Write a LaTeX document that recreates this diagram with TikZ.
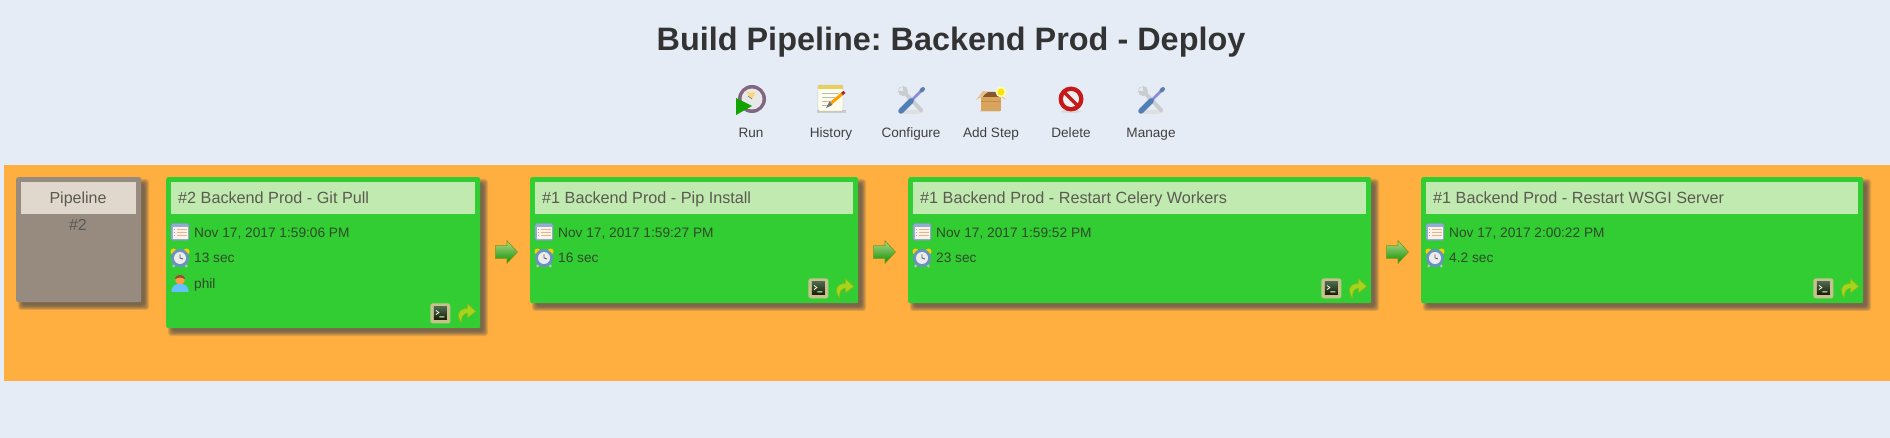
\documentclass[tikz,border=0pt]{standalone}
\usepackage{fontspec}
\setmainfont{Liberation Sans}
\usetikzlibrary{
    positioning,      % Relative positioning
    shapes.arrows,    % Arrows between the steps
    calc              % Coordinate calculations
}

\definecolor{pagebg}{HTML}{E6ECF5}
\definecolor{runbg}{HTML}{FFAE40}
\definecolor{okgreen}{HTML}{32CD32}
\definecolor{okhead}{HTML}{C1EAB1}
\definecolor{pipegrey}{HTML}{968B7E}
\definecolor{pipehead}{HTML}{E0D8CD}
\definecolor{shadetone}{HTML}{4E4E50}
\definecolor{bodytext}{HTML}{2F4A2A}
\definecolor{headtext}{HTML}{5A5A50}
\definecolor{toolblue}{HTML}{4F7FB5}
\definecolor{toolsteel}{HTML}{C9CDD2}
\definecolor{nextlime}{HTML}{A4D41C}
\definecolor{boxtan}{HTML}{D9A45C}
\definecolor{boxflap}{HTML}{E8BE82}
\definecolor{calblue}{HTML}{8FADD6}

\tikzset{
    stepcard/.style={fill=okgreen, rounded corners=2pt, anchor=north west, inner sep=0pt},
    stephead/.style={fill=okhead, anchor=north west, inner sep=0pt, minimum height=32pt},
    pipecard/.style={fill=pipegrey, rounded corners=2pt, anchor=north west, inner sep=0pt},
    pipehd/.style={fill=pipehead, anchor=north west, inner sep=0pt, minimum height=32pt},
    headlabel/.style={text=headtext, anchor=base west, inner sep=0pt, font=\fontsize{16.2}{18}\selectfont},
    rowlabel/.style={text=bodytext, anchor=base west, inner sep=0pt, font=\fontsize{13.7}{16}\selectfont},
    toollabel/.style={text=black!75, anchor=base, inner sep=0pt, font=\fontsize{13.6}{16}\selectfont},
    steparrow/.style={single arrow, single arrow head extend=5pt, single arrow tip angle=95,
        minimum height=22pt, inner xsep=0pt, inner ysep=6pt,
        top color=green!30!olive!45!white, bottom color=green!55!black!95!lime, draw=olive!65!green, line width=.6pt},
    % small card icons
    calicon/.pic={
        \draw[draw=calblue!85!black, fill=calblue, rounded corners=1.5pt] (-9,-8.5) rectangle (9,8.5);
        \fill[white!90!orange] (-7.5,-4.5) rectangle (7.5,7);
        \draw[brown!55!white, line width=1pt] (-3,-2.5) -- (7,-2.5) (-3,0.5) -- (7,0.5) (-3,3.5) -- (7,3.5);
        \draw[blue!40!white, line width=1pt] (-6.5,-2.5) -- (-5,-2.5) (-6.5,0.5) -- (-5,0.5) (-6.5,3.5) -- (-5,3.5);
    },
    clockicon/.pic={
        \fill[yellow!65!orange] (-6.5,-6.5) circle (3pt) (6.5,-6.5) circle (3pt);
        \draw[gray!50!white, line width=2pt] (-5,6) -- (-7,9) (5,6) -- (7,9);
        \fill[toolblue!85!white] (0,0) circle (9pt);
        \fill[white!85!gray] (0,0) circle (6pt);
        \draw[black!65, line width=.8pt] (0,-3.5) -- (0,0) -- (3,1);
    },
    personicon/.pic={
        \fill[blue!40!cyan!60!white] (-8.5,9) .. controls (-8.5,2) and (-4,1) .. (0,1) .. controls (4,1) and (8.5,2) .. (8.5,9) -- cycle;
        \fill[orange!60!pink] (0,-3.5) circle (5pt);
        \fill[brown!70!black] (-5,-3.5) .. controls (-5,-10) and (5,-10) .. (5,-3.5) .. controls (3,-6) and (-3,-6) .. (-5,-3.5) -- cycle;
    },
    termicon/.pic={
        \fill[gray!65!yellow!80!white, rounded corners=2.5pt] (-10,-10) rectangle (10,10);
        \shade[top color=green!15!black!70!white, bottom color=black!90!yellow] (-6.5,-6.5) rectangle (6.5,6.5);
        \draw[white!90!green, line width=.8pt] (-4.5,-3) -- (-1.5,-0.8) -- (-4.5,1.2) (-1,3.5) -- (4,3.5);
    },
    nexticon/.pic={
        \draw[draw=nextlime!85!black, fill=nextlime, line width=.6pt] (1,-9.5) -- (9.5,-2) -- (1,4.5) -- (1,0)
            .. controls (-3,0) and (-5,3) .. (-5,9.5) .. controls (-9.5,4) and (-9.5,-5) .. (1,-5) -- cycle;
    },
    % toolbar icons
    runicon/.pic={
        \fill[gray!80!violet] (1,-1) circle (14pt);
        \fill[white!82!gray] (1,-1) circle (10.5pt);
        \fill[yellow!45!orange!55!white] (1,-1) -- (-5,-9) arc[start angle=233, end angle=290, radius=10pt] -- cycle;
        \draw[black!50, line width=.7pt] (1,-1) -- (-3,-4);
        \fill[green!60!black!90!lime] (-15,-2) -- (-15,15) -- (1,6) -- cycle;
    },
    historyicon/.pic={
        \fill[gray!40] (-14,11) rectangle (15,14);
        \draw[draw=gray!60, fill=white!92!yellow, rounded corners=1pt] (-13,-14) rectangle (12,12);
        \fill[yellow!50!brown!75!white] (-13,-14) rectangle (12,-10);
        \draw[gray!55, line width=.8pt] (-9,-6) -- (8,-6) (-9,-2) -- (4,-2) (-9,2) -- (0,2) (-9,6) -- (-3,6);
        \draw[orange!75!yellow, line width=3pt] (11,-5) -- (-1,5);
        \draw[red!60!black!85!white, line width=3pt] (11,-5) -- (13.5,-7);
        \fill[black!55] (-1.5,2.5) -- (1.5,6) -- (-5,9) -- cycle;
    },
    wrenchicon/.pic={
        \fill[gray!25] (0,12) ellipse (12pt and 2pt);
        \draw[toolsteel, line width=4pt, line cap=round] (-6,-7) -- (10,10);
        \fill[toolsteel] (-8,-9) circle (5pt);
        \fill[pagebg] (-8,-9) -- (-13,-9.5) -- (-8.5,-14) -- cycle;
        \draw[gray!45!blue!60!white, line width=2.5pt] (0,1) -- (10,-9);
        \draw[toolblue!70!gray, line width=4pt, line cap=round] (10.5,-9.5) -- (12,-11);
        \draw[toolblue, line width=5.5pt, line cap=round] (0,1) -- (-10,11);
    },
    boxicon/.pic={
        \fill[gray!30] (-11,11) rectangle (9,12.5);
        \fill[brown!70!black] (-9,-2) -- (-5,-8) -- (7,-8) -- (9,-2) -- cycle;
        \fill[boxtan] (-10,-3) rectangle (10,11);
        \draw[brown!70!boxtan, line width=1pt] (-10,2) -- (10,2);
        \fill[boxflap] (-10,-3) -- (-15,0) -- (-8,-9) -- (-3,-8) -- cycle;
        \fill[boxflap] (10,-3) -- (15,0) -- (8,-8) -- cycle;
        \fill[yellow!30!white] (10,-8) circle (5.5pt);
        \fill[yellow!85!orange] (10,-8) circle (3.5pt);
    },
    deleteicon/.pic={
        \fill[gray!30] (0,12.5) ellipse (10pt and 1.5pt);
        \fill[red!75!black!90!white] (0,0) circle (12.5pt);
        \fill[white!88!gray] (0,0) circle (8pt);
        \draw[red!75!black!90!white, line width=3.5pt] (-6,-6) -- (6,6);
    }
}

% soft shadow of a card: left edge, width, height
\newcommand{\softshade}[3]{
    \foreach \d in {3,2.2,1.4,.6,-.2,-1,-1.8}
        \fill[shadetone, opacity=.17, rounded corners=3pt]
            (#1+5-\d,177+5-\d) rectangle (#1+#2+5+\d,177+#3+5+\d);
}

% one step: name, left edge, width, height, title, date, duration
\newcommand{\stepbox}[7]{
    \softshade{#2}{#3}{#4}
    \node[stepcard, minimum width=#3pt, minimum height=#4pt] (#1) at (#2,177) {};
    \node[stephead, minimum width={#3pt-10pt}] (#1head) at ([shift={(5,5)}]#1.north west) {};
    \node[headlabel] (#1title) at ([shift={(7,22)}]#1head.north west) {#5};
    \pic at ([shift={(14,55)}]#1.north west) {calicon};
    \node[rowlabel] (#1date) at ([shift={(28,61)}]#1.north west) {#6};
    \pic at ([shift={(14,81)}]#1.north west) {clockicon};
    \node[rowlabel] (#1time) at ([shift={(28,86)}]#1.north west) {#7};
    \pic at ([shift={(-40,-15)}]#1.south east) {termicon};
    \pic at ([shift={(-14,-15)}]#1.south east) {nexticon};
}

\begin{document}
\frenchspacing
\begin{tikzpicture}[x=1pt,y=-1pt]
    \useasboundingbox (0,0) rectangle (1890,438);
    \fill[pagebg] (0,0) rectangle (1890,438);

    \node[text=black!80, inner sep=0pt, anchor=base, font=\fontsize{32.4}{36}\selectfont\bfseries] (pagetitle) at (951,51) {Build Pipeline: Backend Prod - Deploy};

    % toolbar
    \pic at (751,100) {runicon};
    \pic at (831,99) {historyicon};
    \pic at (911,100) {wrenchicon};
    \pic at (991,100) {boxicon};
    \pic at (1071,99) {deleteicon};
    \pic at (1151,100) {wrenchicon};
    \node[toollabel] (toolrun) at (751,138) {Run};
    \node[toollabel] (toolhistory) at (831,138) {History};
    \node[toollabel] (toolconfig) at (911,138) {Configure};
    \node[toollabel] (toolstep) at (991,138) {Add Step};
    \node[toollabel] (tooldelete) at (1071,138) {Delete};
    \node[toollabel] (toolmanage) at (1151,138) {Manage};

    \fill[runbg] (4,165) rectangle (1890,381);

    % pipeline box
    \softshade{16}{125}{125}
    \node[pipecard, minimum width=125pt, minimum height=125pt] (pipebox) at (16,177) {};
    \node[pipehd, minimum width=115pt] (pipehead) at ([shift={(5,5)}]pipebox.north west) {};
    \node[text=headtext, inner sep=0pt, anchor=base, font=\fontsize{16}{18}\selectfont] (pipename) at (78,204) {Pipeline};
    \node[text=black!65, inner sep=0pt, anchor=base, font=\fontsize{16}{18}\selectfont] (pipenum) at (78,231) {\#2};

    % steps
    \stepbox{gitpull}{166}{314}{151}{\#2 Backend Prod - Git Pull}{Nov 17, 2017 1:59:06 PM}{13 sec}
    \pic at ([shift={(14,106)}]gitpull.north west) {personicon};
    \node[rowlabel] (gituser) at ([shift={(28,112)}]gitpull.north west) {phil};
    \stepbox{pipinst}{530}{328}{126}{\#1 Backend Prod - Pip Install}{Nov 17, 2017 1:59:27 PM}{16 sec}
    \stepbox{celery}{908}{463}{126}{\#1 Backend Prod - Restart Celery Workers}{Nov 17, 2017 1:59:52 PM}{23 sec}
    \stepbox{wsgi}{1421}{442}{126}{\#1 Backend Prod - Restart WSGI Server}{Nov 17, 2017 2:00:22 PM}{4.2 sec}

    % arrows between steps
    \node[steparrow] (arrowa) at (503.5,252) {};
    \node[steparrow] (arrowb) at (881.5,252) {};
    \node[steparrow] (arrowc) at (1394.5,252) {};
\end{tikzpicture}
\end{document}
